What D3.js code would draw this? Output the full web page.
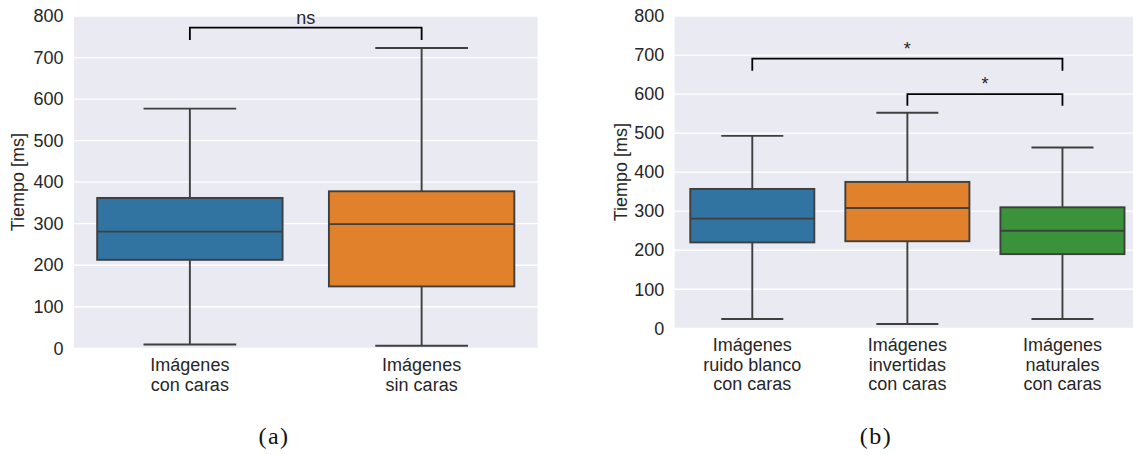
<!DOCTYPE html>
<html>
<head>
<meta charset="utf-8">
<script src="https://cdn.jsdelivr.net/npm/d3@7"></script>
<style>
  html, body { margin: 0; padding: 0; background: #ffffff; }
  svg { display: block; }
  text { font-family: "Liberation Sans", Arial, sans-serif; fill: #262626; }
  .caption { font-family: "Liberation Serif", "DejaVu Serif", serif; fill: #111; }
</style>
</head>
<body>
<svg id="fig" width="1133" height="455"></svg>
<script>
// ---- data: panel (a) ----
const categoriesA = [["Imágenes", "con caras"], ["Imágenes", "sin caras"]];
const whiskerLowA  = [9, 6];
const q1A          = [213, 149];
const medianA      = [281, 299];
const q3A          = [362, 378];
const whiskerHighA = [577, 723];
const bracketsA = [{ from: 0, to: 1, top: 772, foot: 742, label: "ns" }];

// ---- data: panel (b) ----
const categoriesB = [
  ["Imágenes", "ruido blanco", "con caras"],
  ["Imágenes", "invertidas", "con caras"],
  ["Imágenes", "naturales", "con caras"]
];
const whiskerLowB  = [24, 11, 24];
const q1B          = [220, 223, 190];
const medianB      = [281, 308, 250];
const q3B          = [357, 375, 310];
const whiskerHighB = [493, 552, 463];
const bracketsB = [
  { from: 0, to: 2, top: 691, foot: 660, label: "*" },
  { from: 1, to: 2, top: 600, foot: 570, label: "*" }
];

const yTicks = [0, 100, 200, 300, 400, 500, 600, 700, 800];
const yLabel = "Tiempo [ms]";
const palette = ["#3274a1", "#e1812c", "#3a923a"];

// ---- styles ----
const BG = "#eaeaf2";
const LINE = "#3f3f3f";
const FONT = 18;
const svg = d3.select("#fig");

function drawPanel(cfg) {
  const g = svg.append("g");
  const n = cfg.categories.length;
  const x = d3.scaleBand().domain(d3.range(n)).range([cfg.x0, cfg.x1]).padding(0);
  const y = d3.scaleLinear().domain([0, 800]).range([cfg.y0, cfg.y1]);

  // background
  g.append("rect")
    .attr("x", cfg.x0).attr("y", y(800))
    .attr("width", cfg.x1 - cfg.x0).attr("height", y(0) - y(800))
    .attr("fill", BG);

  // horizontal grid
  g.selectAll("line.grid").data(yTicks).join("line")
    .attr("class", "grid")
    .attr("x1", cfg.x0).attr("x2", cfg.x1)
    .attr("y1", d => y(d)).attr("y2", d => y(d))
    .attr("stroke", "#ffffff").attr("stroke-width", 1.3);

  // y axis
  const ax = g.append("g")
    .attr("transform", `translate(${cfg.x0},0)`)
    .call(d3.axisLeft(y).tickValues(yTicks).tickSize(0).tickPadding(10.5));
  ax.select(".domain").remove();
  ax.selectAll("text").attr("font-size", FONT).attr("font-family", "Liberation Sans, Arial, sans-serif").attr("fill", "#262626");

  // y label
  g.append("text")
    .attr("transform", `translate(${cfg.labelX},${(y(0) + y(800)) / 2}) rotate(-90)`)
    .attr("text-anchor", "middle")
    .attr("dominant-baseline", "central")
    .attr("font-size", FONT)
    .text(yLabel);

  // x tick labels (multi-line)
  cfg.categories.forEach((lines, i) => {
    const t = g.append("text")
      .attr("text-anchor", "middle")
      .attr("font-size", FONT)
      .attr("x", x(i) + x.bandwidth() / 2)
      .attr("y", y(0) + 23);
    lines.forEach((ln, k) => {
      t.append("tspan")
        .attr("x", x(i) + x.bandwidth() / 2)
        .attr("dy", k === 0 ? 0 : 19.2)
        .text(ln);
    });
  });

  // boxes
  const bw = x.bandwidth() * 0.8;
  d3.range(n).forEach(i => {
    const cx = x(i) + x.bandwidth() / 2;
    const box = g.append("g");
    // whiskers
    box.append("line")
      .attr("x1", cx).attr("x2", cx)
      .attr("y1", y(cfg.high[i])).attr("y2", y(cfg.q3[i]))
      .attr("stroke", LINE).attr("stroke-width", 1.9);
    box.append("line")
      .attr("x1", cx).attr("x2", cx)
      .attr("y1", y(cfg.q1[i])).attr("y2", y(cfg.low[i]))
      .attr("stroke", LINE).attr("stroke-width", 1.9);
    // caps
    [cfg.high[i], cfg.low[i]].forEach(v => {
      box.append("line")
        .attr("x1", cx - bw / 4).attr("x2", cx + bw / 4)
        .attr("y1", y(v)).attr("y2", y(v))
        .attr("stroke", LINE).attr("stroke-width", 1.9);
    });
    // IQR box
    box.append("rect")
      .attr("x", cx - bw / 2).attr("width", bw)
      .attr("y", y(cfg.q3[i])).attr("height", y(cfg.q1[i]) - y(cfg.q3[i]))
      .attr("fill", palette[i]).attr("stroke", LINE).attr("stroke-width", 1.9);
    // median
    box.append("line")
      .attr("x1", cx - bw / 2).attr("x2", cx + bw / 2)
      .attr("y1", y(cfg.median[i])).attr("y2", y(cfg.median[i]))
      .attr("stroke", LINE).attr("stroke-width", 1.9);
  });

  // significance brackets
  cfg.brackets.forEach(b => {
    const xa = x(b.from) + x.bandwidth() / 2;
    const xb = x(b.to) + x.bandwidth() / 2;
    g.append("path")
      .attr("d", `M${xa},${y(b.foot)}V${y(b.top)}H${xb}V${y(b.foot)}`)
      .attr("fill", "none").attr("stroke", "#000").attr("stroke-width", 1.8);
    g.append("text")
      .attr("x", (xa + xb) / 2)
      .attr("y", y(b.top) - 3.8)
      .attr("text-anchor", "middle")
      .attr("font-size", FONT)
      .attr("fill", "#111")
      .text(b.label);
  });

  // caption
  svg.append("text")
    .attr("class", "caption")
    .attr("x", cfg.capX).attr("y", 444)
    .attr("text-anchor", "middle")
    .attr("font-size", 24)
    .attr("letter-spacing", 1.5)
    .text(cfg.caption);
}

drawPanel({
  categories: categoriesA, low: whiskerLowA, q1: q1A, median: medianA, q3: q3A, high: whiskerHighA,
  brackets: bracketsA, x0: 74, x1: 537.5, y0: 348.3, y1: 16, labelX: 17.5, capX: 274, caption: "(a)"
});
drawPanel({
  categories: categoriesB, low: whiskerLowB, q1: q1B, median: medianB, q3: q3B, high: whiskerHighB,
  brackets: bracketsB, x0: 674.75, x1: 1140, y0: 328.3, y1: 16, labelX: 620.6, capX: 876, caption: "(b)"
});
</script>
</body>
</html>
